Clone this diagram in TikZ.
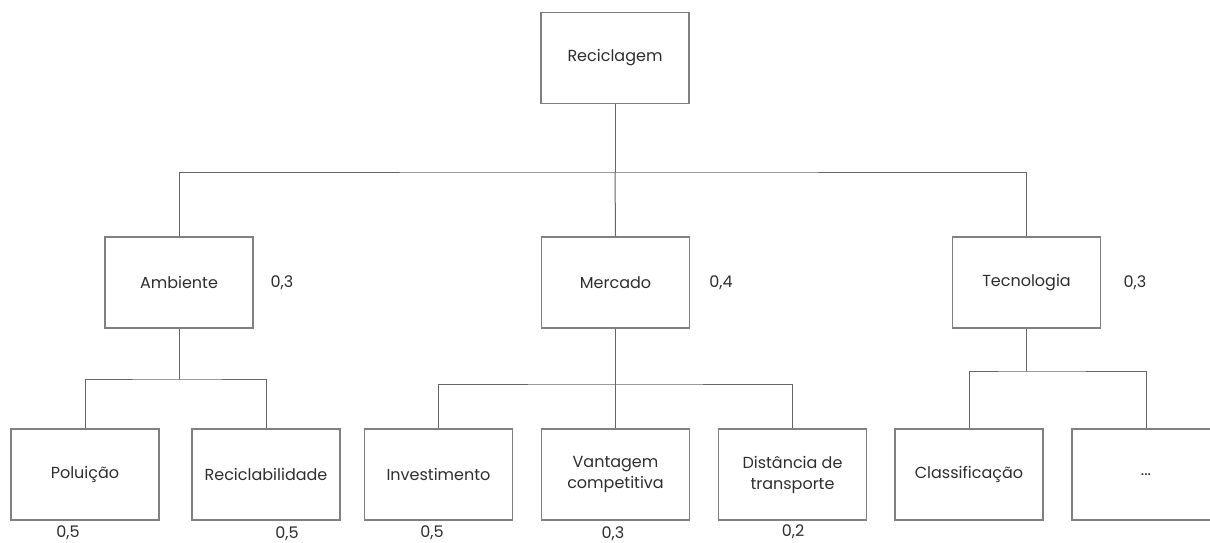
\documentclass[tikz,border=0pt]{standalone}
\usepackage{fontspec}
\setmainfont{Poppins}
\begin{document}
\begin{tikzpicture}[x=1pt,y=-1pt,
  box/.style={draw=boxgray, line width=1.1pt, minimum width=148pt, minimum height=91pt,
    inner sep=0pt, align=center, font=\fontsize{16}{21}\selectfont, text=txt},
  wt/.style={font=\fontsize{16}{18}\selectfont, text=txt, inner sep=0pt},
  link/.style={draw=linegray, line width=1pt}]
\definecolor{boxgray}{HTML}{808080}
\definecolor{linegray}{HTML}{666666}
\definecolor{txt}{HTML}{2E2E2E}
\useasboundingbox (0,0) rectangle (1210,542);
\clip (0,0) rectangle (1210,542);
% root
\node[box] (rec) at (615,58) {Reciclagem};
% criteria
\node[box] (amb) at (179,282.5) {Ambiente};
\node[box] (mer) at (615.5,282.5) {Mercado};
\node[box] (tec) at (1026.5,282.5) {Tecnologia};
% sub-criteria
\node[box] (pol) at (85,474.5) {Poluição};
\node[box] (rcb) at (266,474.5) {Reciclabilidade};
\node[box] (inv) at (438.5,474.5) {Investimento};
\node[box] (van) at (615.5,474.5) {Vantagem\\competitiva};
\node[box] (dis) at (792.5,474.5) {Distância de\\transporte};
\node[box] (cla) at (969,474.5) {Classificação};
\node[box] (etc) at (1146,474.5) {...};
% weights
\node[wt] (wamb) at (282,283) {0,3};
\node[wt] (wmer) at (721,283) {0,4};
\node[wt] (wtec) at (1135,283) {0,3};
\node[wt] (wpol) at (68,533) {0,5};
\node[wt] (wrcb) at (287,534) {0,5};
\node[wt] (winv) at (432,533) {0,5};
\node[wt] (wvan) at (613,534) {0,3};
\node[wt] (wdis) at (793,532) {0,2};
% bus junctions
\coordinate (j0) at (615,172);
\coordinate (j1) at (179,379);
\coordinate (j2) at (615.5,384);
\coordinate (j3) at (1026.5,371);
% connectors
\draw[link] (rec.south) -- (j0);
\draw[link] (amb.north) |- (j0) -| (tec.north);
\draw[link] (j0) -- (mer.north);
\draw[link] (amb.south) -- (j1);
\draw[link] (pol.north) |- (j1) -| (rcb.north);
\draw[link] (mer.south) -- (j2);
\draw[link] (inv.north) |- (j2) -| (dis.north);
\draw[link] (j2) -- (van.north);
\draw[link] (tec.south) -- (j3);
\draw[link] (cla.north) |- (j3) -| (etc.north);
\end{tikzpicture}
\end{document}
